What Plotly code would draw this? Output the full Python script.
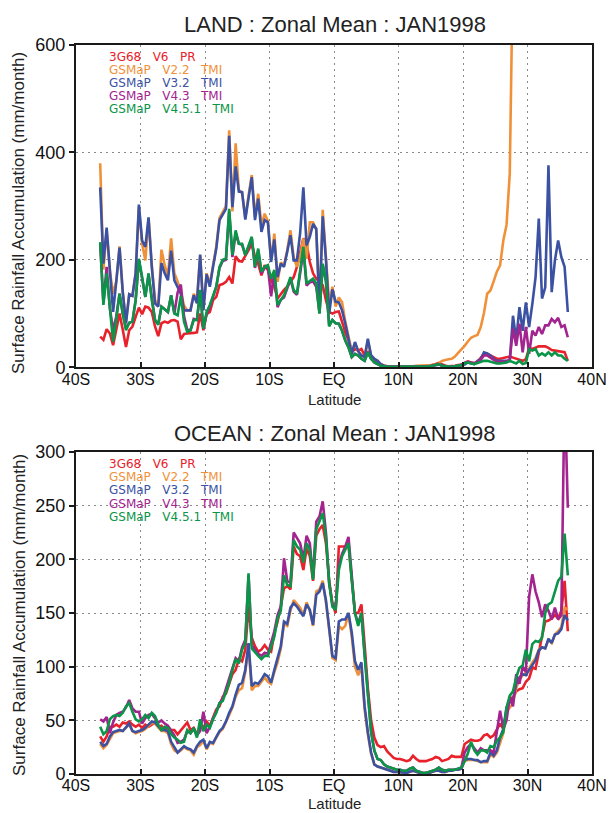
import plotly.graph_objects as go

# Latitude grid (0.5 degree bins, 36.25S .. 36.25N)
lat = [-36.25 + 0.5 * i for i in range(146)]

series_names = ["3G68 V6 PR", "GSMaP V2.2 TMI", "GSMaP V3.2 TMI", "GSMaP V4.3 TMI", "GSMaP V4.5.1 TMI"]
series_colors = ["#e8212b", "#f0913a", "#3b52a3", "#a3238f", "#0a9548"]

x_tickvals = [-40, -30, -20, -10, 0, 10, 20, 30, 40]
x_ticktext = ["40S", "30S", "20S", "10S", "EQ", "10N", "20N", "30N", "40N"]
land_yticks = [0, 200, 400, 600]
ocean_yticks = [0, 50, 100, 150, 200, 250, 300]

# ---------------- LAND (mm/month) ----------------
land_pr = [57, 51, 71, 63, 41, 70, 100, 70, 38, 69,
           76, 94, 111, 99, 113, 111, 103, 76, 58, 82,
           85, 83, 87, 88, 85, 52, 62, 63, 63, 64,
           65, 100, 69, 99, 103, 125, 131, 153, 155, 159,
           168, 156, 207, 198, 197, 207, 218, 230, 206, 193,
           171, 190, 181, 162, 150, 128, 137, 144, 150, 159,
           168, 187, 215, 240, 230, 196, 175, 165, 159, 153,
           125, 103, 100, 103, 104, 84, 65, 50, 28, 34,
           31, 34, 22, 28, 16, 12, 9, 6, 3, 2,
           2, 1, 1, 1, 1, 1, 1, 1, 1, 1,
           1, 2, 3, 4, 6, 8, 5, 3, 2, 2,
           3, 4, 5, 8, 11, 9, 8, 10, 18, 25,
           25, 22, 18, 16, 16, 17, 19, 20, 18, 16,
           14, 12, 15, 36, 34, 37, 39, 39, 39, 36,
           32, 31, 30, 29, 28, 12]

land_v22 = [380, 182, 255, 180, 137, 160, 225, 140, 85, 136,
            133, 175, 298, 230, 199, 278, 190, 125, 115, 219,
            190, 170, 240, 175, 160, 140, 115, 106, 106, 137,
            125, 208, 110, 175, 155, 190, 225, 278, 290, 300,
            441, 290, 417, 330, 325, 278, 320, 358, 280, 323,
            264, 286, 272, 200, 249, 159, 195, 190, 218, 255,
            205, 187, 205, 240, 202, 270, 270, 255, 115, 293,
            205, 119, 150, 113, 130, 121, 85, 60, 30, 45,
            30, 22, 19, 50, 22, 16, 12, 6, 3, 2,
            1, 1, 1, 1, 1, 1, 2, 2, 3, 3,
            3, 3, 4, 4, 5, 7, 12, 14, 15, 16,
            20, 27, 33, 40, 48, 55, 58, 60, 75, 101,
            137, 143, 160, 178, 190, 236, 265, 361, 760, None,
            None, None, None, None, None, None, None, None, None, None,
            None, None, None, None, None, None]

land_v32 = [335, 193, 260, 185, 103, 160, 223, 140, 82, 136,
            133, 175, 303, 236, 224, 279, 187, 119, 113, 194,
            175, 162, 217, 162, 150, 137, 106, 106, 106, 134,
            119, 210, 106, 173, 150, 187, 221, 274, 285, 295,
            431, 298, 374, 327, 326, 275, 315, 354, 274, 314,
            252, 274, 270, 196, 238, 168, 193, 187, 215, 246,
            199, 199, 250, 335, 227, 243, 267, 258, 106, 281,
            200, 100, 145, 122, 121, 106, 81, 56, 25, 47,
            30, 22, 19, 53, 22, 16, 12, 6, 3, 2,
            1, 1, 1, 1, 0, 0, 1, 1, 1, 1,
            1, 1, 2, 3, 4, 5, 3, 2, 1, 1,
            2, 3, 3, 5, 9, 8, 6, 12, 15, 28,
            26, 22, 16, 12, 12, 11, 12, 12, 96, 50,
            112, 68, 121, 75, 118, 168, 277, 128, 149, 376,
            140, 199, 236, 205, 187, 103]

land_v43 = [230, 120, 187, 110, 69, 95, 137, 100, 72, 83,
            85, 125, 200, 165, 131, 172, 125, 88, 80, 113,
            108, 103, 134, 100, 139, 154, 95, 70, 69, 90,
            88, 140, 72, 100, 113, 134, 150, 185, 198, 200,
            290, 205, 250, 230, 228, 209, 225, 240, 185, 218,
            175, 185, 186, 132, 178, 112, 126, 130, 147, 165,
            141, 135, 175, 218, 152, 158, 160, 150, 101, 190,
            160, 78, 88, 82, 81, 68, 50, 37, 19, 25,
            22, 16, 12, 28, 16, 9, 6, 3, 2, 1,
            1, 1, 1, 1, 1, 1, 1, 1, 1, 1,
            1, 1, 2, 3, 4, 6, 3, 2, 1, 1,
            2, 3, 4, 8, 10, 9, 7, 10, 14, 22,
            22, 18, 14, 10, 10, 10, 11, 14, 72, 40,
            81, 28, 75, 25, 68, 59, 75, 62, 78, 78,
            90, 84, 92, 75, 78, 56]

land_v451 = [233, 116, 175, 106, 48, 90, 137, 100, 69, 83,
             85, 125, 202, 168, 131, 175, 125, 88, 79, 113,
             108, 103, 134, 100, 97, 133, 85, 66, 69, 88,
             88, 144, 72, 103, 116, 134, 150, 187, 200, 202,
             295, 209, 255, 230, 230, 209, 225, 243, 187, 221,
             178, 187, 190, 165, 181, 116, 125, 134, 150, 168,
             144, 137, 180, 224, 156, 160, 165, 156, 100, 193,
             162, 76, 88, 82, 81, 68, 50, 37, 19, 25,
             22, 16, 12, 28, 16, 9, 6, 3, 2, 1,
             1, 1, 1, 1, 1, 1, 1, 1, 1, 1,
             1, 1, 2, 3, 4, 6, 3, 2, 1, 1,
             2, 3, 4, 7, 9, 7, 6, 8, 10, 12,
             12, 10, 8, 7, 7, 8, 9, 12, 9, 7,
             12, 6, 8, 34, 31, 34, 22, 26, 22, 28,
             22, 28, 22, 22, 16, 12]

# ---------------- OCEAN (mm/month) ----------------
ocean_pr = [35, 30, 35, 44, 44, 46, 44, 48, 47, 49,
            46, 44, 46, 43, 46, 44, 46, 48, 44, 45,
            41, 43, 41, 41, 37, 41, 44, 48, 41, 43,
            37, 44, 43, 49, 45, 52, 60, 63, 72, 75,
            85, 93, 97, 107, 105, 116, 156, 127, 119, 114,
            116, 120, 116, 114, 131, 142, 156, 173, 175, 172,
            212, 205, 203, 190, 210, 203, 180, 222, 228, 232,
            215, 180, 159, 150, 212, 212, 212, 213, 178, 150,
            150, 158, 120, 80, 50, 34, 27, 25, 26, 21,
            18, 15, 14, 14, 13, 12, 13, 17, 14, 12,
            12, 12, 13, 14, 16, 15, 12, 13, 14, 17,
            16, 16, 16, 28, 30, 32, 31, 31, 32, 36,
            37, 34, 36, 42, 47, 42, 59, 71, 71, 77,
            79, 80, 86, 89, 99, 98, 115, 128, 142, 143,
            145, 148, 145, 152, 180, 133]

ocean_v22 = [28, 24, 27, 33, 38, 39, 40, 40, 43, 46,
             40, 38, 39, 40, 42, 45, 48, 47, 43, 40,
             40, 38, 28, 22, 20, 22, 25, 23, 22, 18,
             25, 27, 31, 23, 29, 28, 34, 39, 42, 48,
             55, 62, 72, 78, 80, 95, 118, 78, 82, 82,
             86, 90, 86, 84, 95, 104, 117, 140, 138, 152,
             162, 158, 155, 148, 160, 152, 138, 170, 172, 180,
             160, 135, 108, 106, 138, 135, 138, 150, 128, 100,
             92, 100, 60, 37, 19, 9, 7, 6, 5, 4,
             3, 2, 2, 1.5, 1.5, 1, 2, 3, 2, 1,
             1, 1, 1, 2, 3, 3, 2, 2, 3, 3,
             4, 4, 5, 12, 13, 13, 13, 12, 11, 11,
             11, 18, 16, 20, 30, 38, 58, 62, 66, 80,
             88, 92, 94, 98, 104, 108, 116, 118, 117, 125,
             122, 130, 133, 137, 155, 153]

ocean_v32 = [30, 26, 28, 35, 39, 40, 41, 40, 44, 47,
             40, 39, 40, 41, 43, 46, 49, 48, 44, 41,
             41, 40, 30, 25, 20, 23, 26, 24, 23, 20,
             26, 30, 32, 24, 30, 29, 35, 40, 43, 49,
             57, 63, 74, 83, 85, 97, 122, 82, 85, 84,
             88, 93, 91, 85, 97, 107, 119, 142, 140, 155,
             159, 156, 152, 147, 158, 153, 139, 167, 170, 178,
             162, 138, 110, 108, 142, 144, 144, 150, 132, 105,
             97, 104, 63, 39, 20, 9, 7, 6, 5, 4,
             3, 2, 2, 1.5, 1.5, 1, 2, 3, 2, 1,
             1, 1, 1, 2, 3, 3, 2, 2, 3, 3,
             4, 4, 5, 13, 14, 14, 13, 13, 11, 12,
             12, 20, 17, 22, 34, 42, 62, 67, 68, 84,
             90, 93, 92, 97, 102, 106, 115, 118, 117, 126,
             122, 130, 131, 135, 148, 143]

ocean_v43 = [51, 49, 53, 38, 48, 55, 57, 58, 62, 69,
             61, 58, 58, 47, 52, 55, 56, 52, 48, 50,
             47, 45, 41, 36, 29, 30, 32, 40, 38, 42,
             36, 40, 58, 38, 44, 52, 58, 66, 70, 80,
             88, 99, 108, 105, 118, 125, 185, 120, 116, 112,
             110, 113, 112, 122, 133, 148, 156, 201, 180, 178,
             225, 220, 215, 200, 222, 215, 183, 235, 240, 254,
             225, 178, 158, 155, 195, 205, 212, 221, 183, 150,
             140, 150, 112, 72, 40, 22, 14, 13, 9, 7,
             6, 5, 4, 4, 3, 3, 5, 6, 3, 2,
             1, 1, 2, 3, 4, 6, 4, 3, 4, 4,
             4, 5, 6, 20, 25, 28, 24, 20, 24, 22,
             22, 22, 20, 39, 59, 42, 50, 72, 63, 93,
             84, 100, 95, 165, 186, 170, 160, 146, 158, 152,
             144, 155, 144, 148, 360, 248]

ocean_v451 = [44, 37, 40, 51, 54, 55, 54, 57, 63, 66,
              58, 51, 49, 51, 55, 52, 57, 54, 46, 41,
              44, 43, 37, 34, 32, 29, 30, 41, 38, 43,
              34, 51, 40, 46, 43, 51, 57, 66, 68, 77,
              85, 97, 107, 103, 116, 122, 187, 117, 113, 110,
              107, 110, 110, 120, 128, 145, 152, 185, 176, 175,
              218, 212, 209, 197, 215, 209, 181, 228, 235, 243,
              221, 178, 156, 153, 190, 203, 209, 215, 181, 150,
              138, 150, 110, 70, 39, 22, 14, 13, 9, 7,
              6, 5, 4, 4, 3, 3, 5, 6, 3, 2,
              1, 1, 2, 3, 4, 6, 4, 3, 4, 4,
              4, 5, 6, 12, 19, 30, 22, 18, 22, 22,
              20, 26, 25, 31, 34, 39, 62, 73, 77, 90,
              99, 101, 116, 105, 121, 124, 123, 127, 150, 158,
              160, 170, 180, 184, 224, 185]

land_series = [land_pr, land_v22, land_v32, land_v43, land_v451]
ocean_series = [ocean_pr, ocean_v22, ocean_v32, ocean_v43, ocean_v451]

W, H = 610, 813
ML, MR, MT, MB = 76, 18, 45, 39
IW, IH = W - ML - MR, H - MT - MB
FONT = "Liberation Sans, Arial, sans-serif"
LFONT = "DejaVu Sans, Liberation Sans, sans-serif"


def px_x(xpx):
    return (xpx - ML) / IW


def px_y(ypx):
    return (H - MB - ypx) / IH


fig = go.Figure()
for name, col, vals in zip(series_names, series_colors, land_series):
    fig.add_trace(go.Scatter(x=lat, y=vals, mode="lines", name=name,
                             line=dict(color=col, width=2.6), xaxis="x", yaxis="y",
                             showlegend=False, connectgaps=False))
for name, col, vals in zip(series_names, series_colors, ocean_series):
    fig.add_trace(go.Scatter(x=lat, y=vals, mode="lines", name=name,
                             line=dict(color=col, width=2.6), xaxis="x2", yaxis="y2",
                             showlegend=False, connectgaps=False))

top_dom = [px_y(367.3), 1.0]
bot_dom = [0.0, px_y(452)]

common_x = dict(range=[-40, 40], tickvals=x_tickvals, ticktext=x_ticktext,
                showgrid=True, gridcolor="#8a8a8a", griddash="2px,4px", gridwidth=1,
                showline=True, linecolor="#1a1a1a", linewidth=2, mirror=True,
                ticks="inside", ticklen=5, tickwidth=1.5, tickcolor="#1a1a1a",
                ticklabelstandoff=-4,
                zeroline=False, automargin=False,
                tickfont=dict(family=FONT, size=16, color="#111"),
                domain=[0, 1])
common_y = dict(showgrid=True, gridcolor="#8a8a8a", griddash="2px,4px", gridwidth=1,
                showline=True, linecolor="#1a1a1a", linewidth=2, mirror=True,
                ticks="outside", ticklen=5, tickwidth=1.5, tickcolor="#1a1a1a",
                zeroline=False, automargin=False,
                tickfont=dict(family=FONT, size=18, color="#111"))

fig.update_layout(
    width=W, height=H,
    margin=dict(l=ML, r=MR, t=MT, b=MB, autoexpand=False),
    paper_bgcolor="white", plot_bgcolor="white",
    xaxis=dict(anchor="y", **common_x),
    xaxis2=dict(anchor="y2", **common_x),
    yaxis=dict(anchor="x", domain=top_dom, range=[0, 600], tickvals=land_yticks, **common_y),
    yaxis2=dict(anchor="x2", domain=bot_dom, range=[0, 300], tickvals=ocean_yticks, **common_y),
)

ann = []
C = dict(xref="paper", yref="paper", showarrow=False, xanchor="center", yanchor="middle")
# titles
ann.append(dict(text="LAND : Zonal Mean : JAN1998", x=px_x(335), y=px_y(25),
                font=dict(family=FONT, size=22, color="#222"), **C))
ann.append(dict(text="OCEAN : Zonal Mean : JAN1998", x=px_x(335), y=px_y(433),
                font=dict(family=FONT, size=22, color="#222"), **C))
# x titles
for yy in (399, 803):
    ann.append(dict(text="Latitude", x=px_x(334), y=px_y(yy), borderpad=0,
                    font=dict(family=FONT, size=15, color="#222"), **C))
# y titles
for yy in (213, 615):
    ann.append(dict(text="Surface Rainfall Accumulation (mm/month)", x=px_x(19), y=px_y(yy),
                    textangle=-90, font=dict(family=FONT, size=17, color="#222"), **C))
# in-plot legends
for y0 in (56.7, 464):
    for k, (name, col) in enumerate(zip(series_names, series_colors)):
        ann.append(dict(text=name.replace(" ", "\u00a0\u00a0\u00a0"), x=px_x(108), y=px_y(y0 + 13.2 * k),
                        xref="paper", yref="paper", xanchor="left", yanchor="middle",
                        borderpad=0, showarrow=False, font=dict(family=LFONT, size=12, color=col)))
fig.update_layout(annotations=ann)

fig.write_html("out.html")
